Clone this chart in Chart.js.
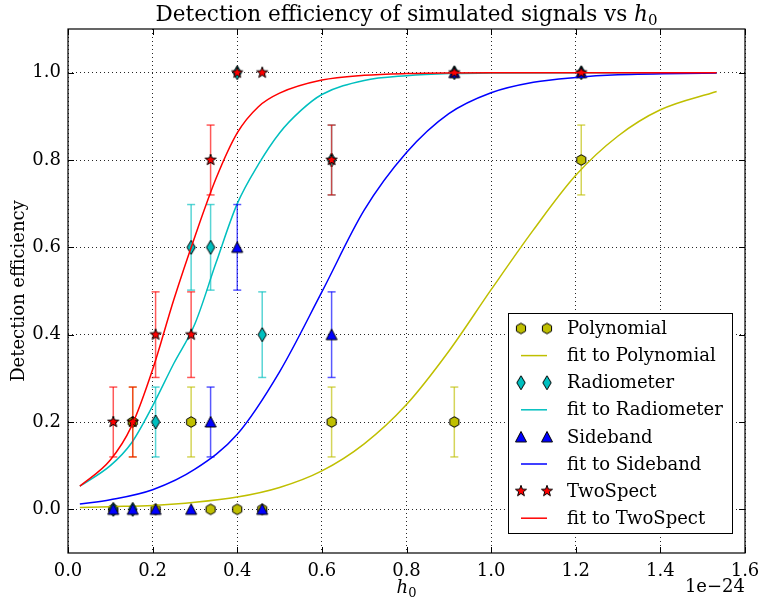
<!DOCTYPE html>
<html>
<head>
<meta charset="utf-8">
<script src="https://cdn.jsdelivr.net/npm/chart.js@4.4.0/dist/chart.umd.min.js"></script>
<style>
  html, body { margin: 0; padding: 0; background: #fff; }
  canvas { display: block; }
</style>
</head>
<body>
<canvas id="chart" width="761" height="600"></canvas>
<script>
// injected h0 values, in units of 1e-24
const h0Values = [0.107, 0.153, 0.207, 0.291, 0.337, 0.400, 0.459, 0.623, 0.913, 1.213];

// measured detection efficiency and error per search method
const polyEff  = [0, 0.2, 0, 0.2, 0, 0, 0, 0.2, 0.2, 0.8];
const polyErr  = [0, 0.08, 0, 0.08, 0, 0, 0, 0.08, 0.08, 0.08];
const radioEff = [0, 0, 0.2, 0.6, 0.6, 1.0, 0.4, 0.8, 1.0, 1.0];
const radioErr = [0, 0, 0.08, 0.098, 0.098, 0, 0.098, 0.08, 0, 0];
const sideEff  = [0, 0, 0, 0, 0.2, 0.6, 0, 0.4, 1.0, 1.0];
const sideErr  = [0, 0, 0, 0, 0.08, 0.098, 0, 0.098, 0, 0];
const twoEff   = [0.2, 0.2, 0.4, 0.4, 0.8, 1.0, 1.0, 0.8, 1.0, 1.0];
const twoErr   = [0.08, 0.08, 0.098, 0.098, 0.08, 0, 0, 0.08, 0, 0];

// fitted curves
const polyFitX  = [0.028, 0.1, 0.2, 0.3, 0.4, 0.5, 0.6, 0.7, 0.8, 0.9, 1.0, 1.1, 1.2, 1.3, 1.4, 1.533];
const polyFitY  = [0.004, 0.006, 0.009, 0.016, 0.028, 0.05, 0.088, 0.150, 0.240, 0.362, 0.503, 0.640, 0.765, 0.855, 0.915, 0.957];
const radioFitX = [0.028, 0.1, 0.15, 0.2, 0.25, 0.3, 0.35, 0.4, 0.45, 0.5, 0.55, 0.6, 0.7, 0.8, 0.9, 1.0, 1.2, 1.533];
const radioFitY = [0.053, 0.100, 0.152, 0.237, 0.334, 0.425, 0.565, 0.700, 0.790, 0.862, 0.913, 0.950, 0.982, 0.993, 0.998, 0.999, 1.0, 1.0];
const sideFitX  = [0.028, 0.1, 0.2, 0.3, 0.4, 0.5, 0.6, 0.7, 0.8, 0.9, 1.0, 1.1, 1.2, 1.3, 1.533];
const sideFitY  = [0.012, 0.022, 0.045, 0.092, 0.172, 0.315, 0.498, 0.685, 0.817, 0.906, 0.954, 0.978, 0.989, 0.995, 0.999];
const twoFitX   = [0.028, 0.1, 0.15, 0.2, 0.25, 0.3, 0.35, 0.4, 0.45, 0.5, 0.6, 0.7, 0.8, 1.0, 1.533];
const twoFitY   = [0.053, 0.113, 0.190, 0.320, 0.480, 0.625, 0.758, 0.862, 0.922, 0.953, 0.983, 0.994, 0.998, 1.0, 1.0];

const xTicks = [0.0, 0.2, 0.4, 0.6, 0.8, 1.0, 1.2, 1.4, 1.6];
const yTicks = [0.0, 0.2, 0.4, 0.6, 0.8, 1.0];

const SERIF = '"DejaVu Serif", serif';
const COLORS = { poly: '#bfbf00', radio: '#00bfbf', side: '#0000ff', two: '#ff0000' };

// marker images (matplotlib-like shapes with black edge)
function makeMarker(w, h, fill, pathFn) {
  const c = document.createElement('canvas');
  c.width = w; c.height = h;
  const g = c.getContext('2d');
  g.beginPath();
  pathFn(g, w / 2, h / 2);
  g.closePath();
  g.fillStyle = fill;
  g.fill();
  g.lineWidth = 1;
  g.strokeStyle = '#000';
  g.stroke();
  return c;
}

const hexMarker = makeMarker(14, 14, COLORS.poly, (g, cx, cy) => {
  const r = 5.3;
  for (let k = 0; k < 6; k++) {
    const a = -Math.PI / 2 + k * Math.PI / 3;
    const px = cx + r * Math.cos(a), py = cy + r * Math.sin(a);
    k === 0 ? g.moveTo(px, py) : g.lineTo(px, py);
  }
});
const diamondMarker = makeMarker(12, 18, COLORS.radio, (g, cx, cy) => {
  g.moveTo(cx, cy - 7); g.lineTo(cx + 4.2, cy); g.lineTo(cx, cy + 7); g.lineTo(cx - 4.2, cy);
});
const triMarker = makeMarker(14, 14, COLORS.side, (g, cx, cy) => {
  g.moveTo(cx, cy - 5.5); g.lineTo(cx + 5.5, cy + 5); g.lineTo(cx - 5.5, cy + 5);
});
const starMarker = makeMarker(14, 14, COLORS.two, (g, cx, cy) => {
  for (let k = 0; k < 10; k++) {
    const r = k % 2 === 0 ? 5.8 : 2.4;
    const a = -Math.PI / 2 + k * Math.PI / 5;
    const px = cx + r * Math.cos(a), py = cy + r * Math.sin(a);
    k === 0 ? g.moveTo(px, py) : g.lineTo(px, py);
  }
});

function withAlpha(hex, a) {
  const n = parseInt(hex.slice(1), 16);
  return `rgba(${n >> 16},${(n >> 8) & 255},${n & 255},${a})`;
}

function pointsData(xs, ys) {
  return xs.map((x, i) => ({ x: x, y: ys[i] }));
}

// error bars as broken line segments, caps drawn as 'line' point style
function errorData(xs, ys, errs) {
  const out = [];
  xs.forEach((x, i) => {
    if (!errs[i]) return;
    out.push({ x: x, y: ys[i] - errs[i] }, { x: x, y: ys[i] + errs[i] }, { x: x, y: null });
  });
  return out;
}

const methods = [
  { name: 'Polynomial', color: COLORS.poly, marker: hexMarker, eff: polyEff, err: polyErr, fx: polyFitX, fy: polyFitY },
  { name: 'Radiometer', color: COLORS.radio, marker: diamondMarker, eff: radioEff, err: radioErr, fx: radioFitX, fy: radioFitY },
  { name: 'Sideband', color: COLORS.side, marker: triMarker, eff: sideEff, err: sideErr, fx: sideFitX, fy: sideFitY },
  { name: 'TwoSpect', color: COLORS.two, marker: starMarker, eff: twoEff, err: twoErr, fx: twoFitX, fy: twoFitY }
];

// datasets in drawing order (later = on top)
const drawList = [];
methods.forEach(m => {
  drawList.push({
    label: m.name + ' errors',
    data: errorData(h0Values, m.eff, m.err),
    showLine: true,
    spanGaps: false,
    borderColor: withAlpha(m.color, 0.65),
    borderWidth: 1.5,
    pointStyle: 'line',
    pointRadius: 4,
    pointBorderWidth: 1.5,
    pointBorderColor: withAlpha(m.color, 0.65)
  });
  drawList.push({
    label: m.name,
    data: pointsData(h0Values, m.eff),
    showLine: false,
    pointStyle: m.marker,
    pointRadius: 6
  });
  drawList.push({
    label: 'fit to ' + m.name,
    data: pointsData(m.fx, m.fy),
    showLine: true,
    borderColor: m.color,
    borderWidth: 1.5,
    pointRadius: 0,
    cubicInterpolationMode: 'monotone'
  });
});
drawList.forEach((d, i) => { d.order = drawList.length - i; });

function drawRuns(ctx, runs, x, y, align) {
  let total = 0;
  runs.forEach(r => { ctx.font = r.font; total += ctx.measureText(r.text).width; });
  let cx = align === 'center' ? x - total / 2 : align === 'right' ? x - total : x;
  ctx.textAlign = 'left';
  runs.forEach(r => {
    ctx.font = r.font;
    ctx.fillText(r.text, cx, y + (r.dy || 0));
    cx += ctx.measureText(r.text).width;
  });
}

const decorPlugin = {
  id: 'decor',
  afterDraw(chart) {
    const ctx = chart.ctx;
    const a = chart.chartArea;
    const xs = chart.scales.x, ys = chart.scales.y;
    ctx.save();
    ctx.fillStyle = '#000';
    ctx.strokeStyle = '#000';

    // inward ticks on all four sides
    ctx.lineWidth = 1;
    ctx.beginPath();
    xTicks.forEach(v => {
      const px = Math.round(xs.getPixelForValue(v)) + 0.5;
      ctx.moveTo(px, a.bottom); ctx.lineTo(px, a.bottom - 6);
      ctx.moveTo(px, a.top); ctx.lineTo(px, a.top + 6);
    });
    yTicks.forEach(v => {
      const py = Math.round(ys.getPixelForValue(v)) + 0.5;
      ctx.moveTo(a.left, py); ctx.lineTo(a.left + 6, py);
      ctx.moveTo(a.right, py); ctx.lineTo(a.right - 6, py);
    });
    ctx.stroke();

    // frame
    ctx.lineWidth = 1.2;
    ctx.strokeRect(a.left, a.top, a.right - a.left, a.bottom - a.top);

    // title
    ctx.textBaseline = 'alphabetic';
    drawRuns(ctx, [
      { text: 'Detection efficiency of simulated signals vs ', font: '21.5px ' + SERIF },
      { text: 'h', font: 'italic 21.5px ' + SERIF },
      { text: '0', font: '15px ' + SERIF, dy: 4 }
    ], (a.left + a.right) / 2, 21, 'center');

    // x axis label and offset text
    drawRuns(ctx, [
      { text: 'h', font: 'italic 18px ' + SERIF },
      { text: '0', font: '13px ' + SERIF, dy: 4 }
    ], (a.left + a.right) / 2, 593, 'center');
    drawRuns(ctx, [{ text: '1e\u221224', font: '18px ' + SERIF }], a.right, 592, 'right');

    // y axis label
    ctx.save();
    ctx.translate(24, (a.top + a.bottom) / 2);
    ctx.rotate(-Math.PI / 2);
    ctx.font = '18px ' + SERIF;
    ctx.textAlign = 'center';
    ctx.fillText('Detection efficiency', 0, 0);
    ctx.restore();

    // legend
    const lx = 508.5, ly = 313.5, lw = 224, lh = 220;
    ctx.fillStyle = '#fff';
    ctx.fillRect(lx, ly, lw, lh);
    ctx.lineWidth = 1;
    ctx.strokeStyle = '#000';
    ctx.strokeRect(lx, ly, lw, lh);
    ctx.font = '18px ' + SERIF;
    ctx.textBaseline = 'middle';
    ctx.fillStyle = '#000';
    let row = 0;
    methods.forEach(m => {
      const y1 = 328.5 + 27.1 * row;
      [521, 547].forEach(mx => {
        ctx.drawImage(m.marker, mx - m.marker.width / 2, y1 - m.marker.height / 2);
      });
      ctx.fillText(m.name, 567, y1 + 1);
      row++;
      const y2 = 328.5 + 27.1 * row;
      ctx.strokeStyle = m.color;
      ctx.lineWidth = 1.5;
      ctx.beginPath();
      ctx.moveTo(521, y2); ctx.lineTo(547, y2);
      ctx.stroke();
      ctx.fillText('fit to ' + m.name, 567, y2 + 1);
      row++;
    });
    ctx.restore();
  }
};

const tickFont = { family: SERIF, size: 18 };

new Chart(document.getElementById('chart'), {
  type: 'scatter',
  data: { datasets: drawList },
  options: {
    responsive: false,
    animation: false,
    layout: { padding: { top: 29, right: 16, left: 0, bottom: 0 } },
    plugins: {
      legend: { display: false },
      title: { display: false },
      tooltip: { enabled: false }
    },
    scales: {
      x: {
        type: 'linear',
        min: 0,
        max: 1.6,
        afterBuildTicks: s => { s.ticks = xTicks.map(v => ({ value: v })); },
        afterFit: s => { s.height = 47; s.paddingLeft = 0; s.paddingRight = 0; },
        grid: { color: 'rgba(0,0,0,0.85)', lineWidth: 1, drawTicks: false },
        border: { display: false, dash: [1, 3] },
        ticks: {
          font: tickFont, color: '#000', padding: 8, maxRotation: 0, autoSkip: false,
          callback: v => v.toFixed(1)
        }
      },
      y: {
        type: 'linear',
        min: -0.1,
        max: 1.1,
        afterBuildTicks: s => { s.ticks = yTicks.map(v => ({ value: v })); },
        afterFit: s => { s.width = 68; s.paddingTop = 0; s.paddingBottom = 0; },
        grid: { color: 'rgba(0,0,0,0.85)', lineWidth: 1, drawTicks: false },
        border: { display: false, dash: [1, 3] },
        ticks: {
          font: tickFont, color: '#000', padding: 7,
          callback: v => v.toFixed(1)
        }
      }
    }
  },
  plugins: [decorPlugin]
});
</script>
</body>
</html>
